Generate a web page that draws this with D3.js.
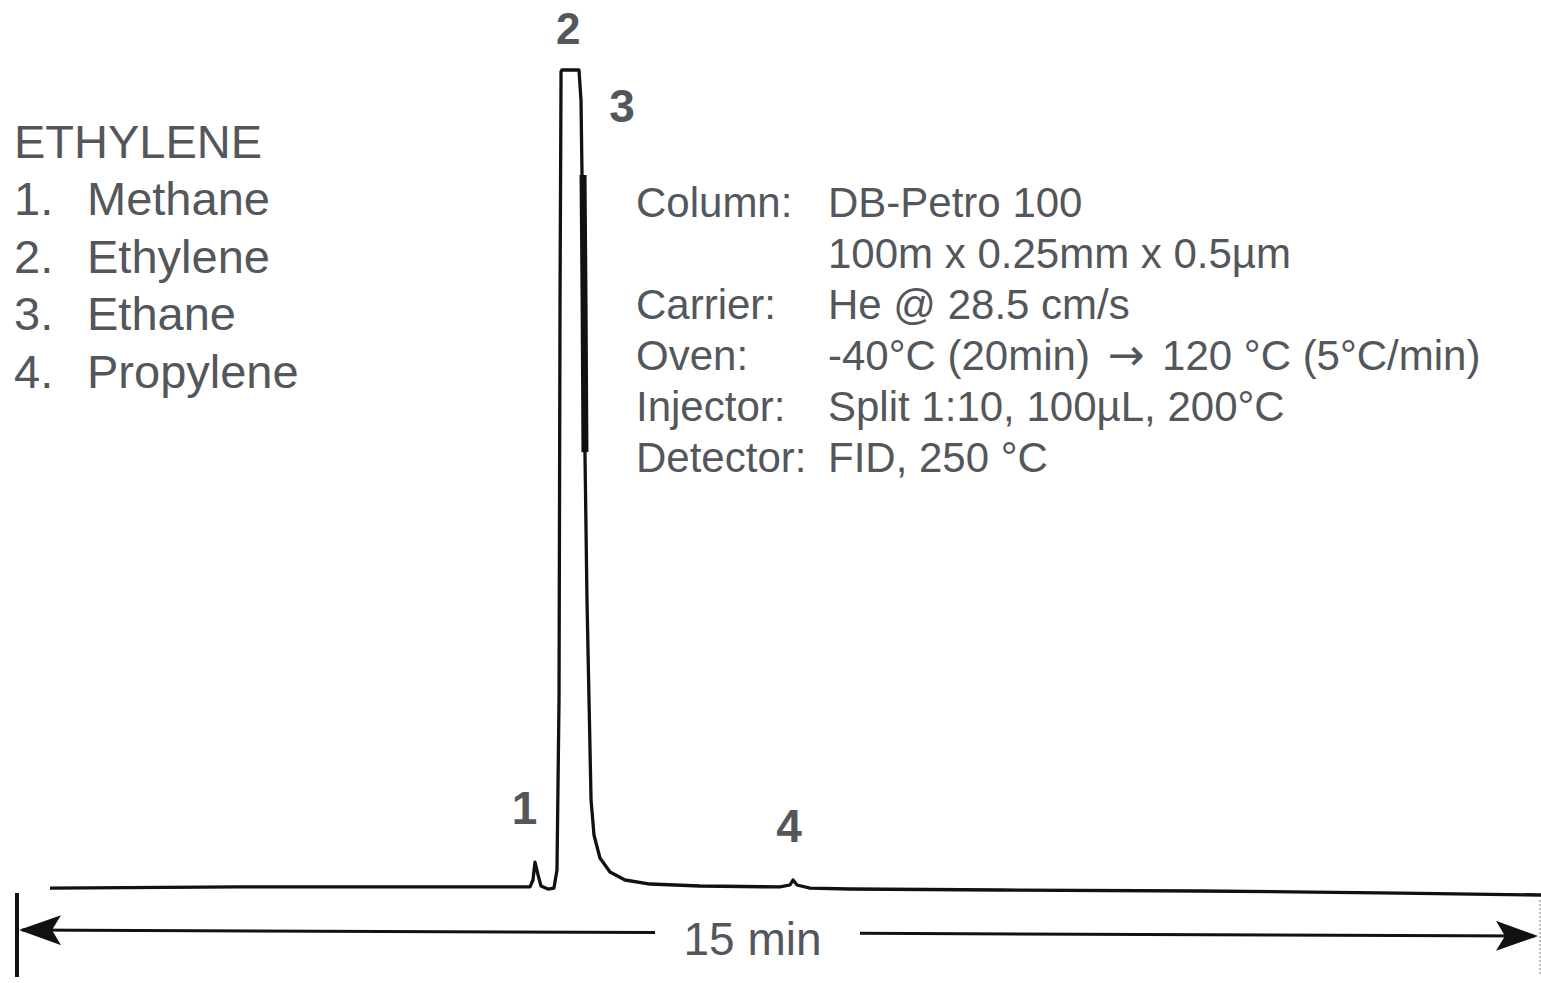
<!DOCTYPE html>
<html>
<head>
<meta charset="utf-8">
<title>Ethylene chromatogram</title>
<script src="https://d3js.org/d3.v7.min.js"></script>
<style>
  body { margin: 0; background: #fff; }
  svg text { font-family: "Liberation Sans", Arial, sans-serif; fill: #53575c; }
</style>
</head>
<body>
<div id="chart"></div>
<script>
// retention time (min) and detector signal (% of the clipped top)
var traceTime = [0.316, 2.191, 5.053, 5.082, 5.102, 5.132, 5.161, 5.230, 5.289, 5.319, 5.339, 5.349, 5.359, 5.368,
  5.536, 5.556, 5.566, 5.586, 5.595, 5.615, 5.635, 5.655, 5.684, 5.743, 5.842, 5.990, 6.237, 6.730,
  7.520, 7.618, 7.648, 7.688, 7.816, 8.211, 9.691, 11.664, 13.638, 15.030];
var traceSignal = [0.24, 0.37, 0.37, 1.22, 3.41, 1.83, 0.49, 0.12, 0.24, 2.44, 23.2, 71.9, 99.8, 100,
  100, 96.3, 87.2, 71.9, 53.4, 35.4, 23.2, 11.0, 6.71, 3.90, 2.20, 1.22, 0.73, 0.49,
  0.37, 0.61, 1.22, 0.61, 0.24, 0.12, 0, -0.12, -0.37, -0.61];

// thick, noisy band on the ethane shoulder
var bandTime = [5.576, 5.586, 5.595];
var bandSignal = [87.2, 71.9, 53.4];

// peak labels: retention time and signal where each number sits
var peakIds = ["1", "2", "3", "4"];
var peakTime = [5.00, 5.43, 5.96, 7.61];
var peakSignal = [8.1, 103.2, 93.6, 5.8];

var compoundTitle = "ETHYLENE";
var compoundNames = ["Methane", "Ethylene", "Ethane", "Propylene"];

var condLabels = ["Column:", "", "Carrier:", "Oven:", "Injector:", "Detector:"];
var condValues = ["DB-Petro 100", "100m x 0.25mm x 0.5µm", "He @ 28.5 cm/s",
  "-40°C (20min) | 120 °C (5°C/min)", "Split 1:10, 100µL, 200°C", "FID, 250 °C"];

var spanMinutes = 15;

var width = 1541, height = 983;

var svg = d3.select("#chart").append("svg")
  .attr("width", width)
  .attr("height", height);

var x = d3.scaleLinear().domain([0, spanMinutes]).range([18, 1538]);
var y = d3.scaleLinear().domain([0, 100]).range([890, 70]);

var trace = traceTime.map(function (t, i) { return { t: t, s: traceSignal[i] }; });
var band = bandTime.map(function (t, i) { return { t: t, s: bandSignal[i] }; });

var line = d3.line()
  .x(function (d) { return x(d.t); })
  .y(function (d) { return y(d.s); });

svg.append("path")
  .datum(trace)
  .attr("d", line)
  .attr("fill", "none")
  .attr("stroke", "#111")
  .attr("stroke-width", 3.3)
  .attr("stroke-linejoin", "round");

svg.append("path")
  .datum(band)
  .attr("d", line)
  .attr("fill", "none")
  .attr("stroke", "#111")
  .attr("stroke-width", 7);

// peak numbers
svg.selectAll("text.peak")
  .data(peakIds)
  .enter()
  .append("text")
  .attr("class", "peak")
  .attr("x", function (d, i) { return x(peakTime[i]); })
  .attr("y", function (d, i) { return y(peakSignal[i]); })
  .attr("text-anchor", "middle")
  .style("font-size", function (d) { return d === "2" ? "44px" : "46px"; })
  .style("font-weight", "bold")
  .text(function (d) { return d; });

// 15 min span arrow
var arrowY0 = 930, arrowY1 = 936;
var x0 = x(0) + 4, x1 = x(spanMinutes) - 3;
function arrowY(px) { return arrowY0 + (arrowY1 - arrowY0) * (px - x0) / (x1 - x0); }

var defs = svg.append("defs");
defs.append("marker")
  .attr("id", "head")
  .attr("viewBox", "0 0 14 10")
  .attr("refX", 13)
  .attr("refY", 5)
  .attr("markerWidth", 14)
  .attr("markerHeight", 10)
  .attr("markerUnits", "strokeWidth")
  .attr("orient", "auto-start-reverse")
  .append("path")
  .attr("d", "M0,0 L14,5 L0,10 L3,5 Z")
  .attr("fill", "#111");

var gapL = 655, gapR = 860;
svg.append("line")
  .attr("x1", gapL).attr("y1", arrowY(gapL))
  .attr("x2", x0).attr("y2", arrowY(x0))
  .attr("stroke", "#111").attr("stroke-width", 3)
  .attr("marker-end", "url(#head)");
svg.append("line")
  .attr("x1", gapR).attr("y1", arrowY(gapR))
  .attr("x2", x1).attr("y2", arrowY(x1))
  .attr("stroke", "#111").attr("stroke-width", 3)
  .attr("marker-end", "url(#head)");

svg.append("line")
  .attr("x1", x(0) - 1).attr("x2", x(0) - 1)
  .attr("y1", 893).attr("y2", 977)
  .attr("stroke", "#111").attr("stroke-width", 4);
svg.append("line")
  .attr("x1", x(spanMinutes) + 2).attr("x2", x(spanMinutes) + 2)
  .attr("y1", 900).attr("y2", 976)
  .attr("stroke", "#bbb").attr("stroke-width", 2)
  .attr("stroke-dasharray", "2,2");

svg.append("text")
  .attr("x", (gapL + gapR) / 2 - 5)
  .attr("y", 955)
  .attr("text-anchor", "middle")
  .style("font-size", "46px")
  .text(spanMinutes + " min");

// compound list
var legend = svg.append("g");
legend.append("text")
  .attr("x", 14).attr("y", 158)
  .style("font-size", "47px")
  .text(compoundTitle);
compoundNames.forEach(function (name, i) {
  var yy = 215 + i * 57.7;
  legend.append("text").attr("x", 14).attr("y", yy)
    .style("font-size", "47px").text((i + 1) + ".");
  legend.append("text").attr("x", 87).attr("y", yy)
    .style("font-size", "47px").text(name);
});

// conditions block
var cond = svg.append("g");
condLabels.forEach(function (lab, i) {
  var yy = 217 + i * 51;
  cond.append("text").attr("x", 636).attr("y", yy)
    .style("font-size", "42px").text(lab);
  var t = cond.append("text").attr("x", 828).attr("y", yy)
    .style("font-size", "42px");
  var parts = condValues[i].split(" | ");
  if (parts.length === 1) {
    t.text(condValues[i]);
  } else {
    // the arrow glyph is larger in the original, take it from DejaVu
    t.append("tspan").text(parts[0] + " ");
    t.append("tspan").attr("dx", 6).style("font-family", "'DejaVu Sans', sans-serif")
      .style("font-size", "44px").text("\u2192");
    t.append("tspan").attr("dx", 6).text(" " + parts[1]);
  }
});
</script>
</body>
</html>
